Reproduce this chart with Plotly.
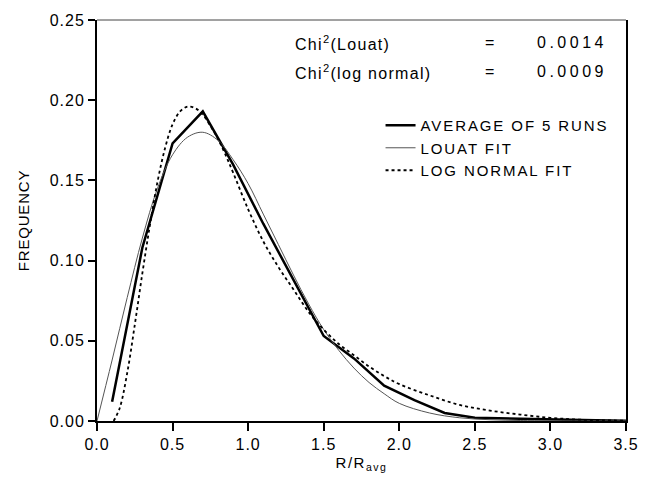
import plotly.graph_objects as go

# Average of 5 runs
avg_x = [0.1, 0.3, 0.5, 0.7, 0.9, 1.1, 1.3, 1.5, 1.7, 1.9, 2.1, 2.3, 2.5, 2.7, 2.9, 3.1, 3.3, 3.5]
avg_y = [0.012, 0.108, 0.173, 0.193, 0.160, 0.123, 0.088, 0.053, 0.039, 0.022, 0.013, 0.005,
         0.002, 0.0015, 0.001, 0.0007, 0.0004, 0.0002]

# Louat fit
louat_x = [0, 0.1, 0.2, 0.3, 0.4, 0.5, 0.6, 0.7, 0.8, 0.9, 1.0, 1.1, 1.2, 1.3, 1.4, 1.5, 1.6, 1.7,
           1.8, 1.9, 2.0, 2.2, 2.4, 2.6, 2.8, 3.0, 3.5]
louat_y = [0, 0.038, 0.077, 0.114, 0.145, 0.166, 0.177, 0.180, 0.175, 0.163, 0.148, 0.129, 0.110,
           0.091, 0.073, 0.057, 0.044, 0.033, 0.024, 0.017, 0.011, 0.005, 0.002, 0.0008, 0.0003,
           0.0001, 0]

# Log normal fit
logn_x = [0.11, 0.15, 0.2, 0.25, 0.3, 0.35, 0.4, 0.45, 0.5, 0.55, 0.6, 0.65, 0.7, 0.75, 0.8, 0.85,
          0.9, 1.0, 1.1, 1.2, 1.3, 1.4, 1.5, 1.6, 1.7, 1.8, 1.9, 2.0, 2.2, 2.4, 2.6, 2.8, 3.0, 3.2, 3.5]
logn_y = [0, 0.008, 0.030, 0.060, 0.092, 0.122, 0.149, 0.170, 0.185, 0.193, 0.196, 0.195, 0.191,
          0.184, 0.176, 0.166, 0.155, 0.132, 0.112, 0.096, 0.082, 0.068, 0.057, 0.048, 0.041,
          0.034, 0.028, 0.023, 0.016, 0.010, 0.0065, 0.004, 0.002, 0.0008, 0.0002]

x_ticks = [0.0, 0.5, 1.0, 1.5, 2.0, 2.5, 3.0, 3.5]
y_ticks = [0.00, 0.05, 0.10, 0.15, 0.20, 0.25]

series_names = ["AVERAGE OF 5 RUNS", "LOUAT FIT", "LOG NORMAL FIT"]
chi_labels = ["Chi<sup>2</sup>(Louat)", "Chi<sup>2</sup>(log normal)"]
chi_values = ["0.0014", "0.0009"]

FONT = "Liberation Sans, Arial, Helvetica, sans-serif"


def spaced(txt, px):
    return f'<span style="letter-spacing:{px}px">{txt}</span>'


fig = go.Figure()
fig.add_trace(go.Scatter(x=avg_x, y=avg_y, mode="lines", name=spaced(series_names[0], 1.9),
                         line=dict(color="black", width=2.5)))
fig.add_trace(go.Scatter(x=louat_x, y=louat_y, mode="lines", name=spaced(series_names[1], 1.9),
                         line=dict(color="#555555", width=1, shape="spline")))
fig.add_trace(go.Scatter(x=logn_x, y=logn_y, mode="lines", name=spaced(series_names[2], 1.9),
                         line=dict(color="black", width=1.8, dash="dot", shape="spline")))

fig.update_layout(
    width=651, height=486,
    margin=dict(l=97, r=23, t=16, b=65),
    paper_bgcolor="white", plot_bgcolor="white",
    font=dict(family=FONT, size=15, color="black"),
    showlegend=True,
    legend=dict(x=0.536, y=0.778, xanchor="left", yanchor="top",
                bgcolor="rgba(0,0,0,0)", font=dict(size=15),
                tracegroupgap=0, itemwidth=30),
    xaxis=dict(range=[0, 3.5], tickvals=x_ticks, ticktext=[spaced(f"{v:.1f}", 1) for v in x_ticks],
               showgrid=False, zeroline=False, showline=True, linecolor="black", linewidth=2,
               ticks="outside", ticklen=8, tickwidth=1.5, tickcolor="black",
               tickfont=dict(size=16),
               title=dict(text=spaced("R/R<sub>avg</sub>", 1.5), font=dict(size=15), standoff=5)),
    yaxis=dict(range=[0, 0.25], tickvals=y_ticks, ticktext=[spaced(f"{v:.2f}", 1) for v in y_ticks],
               showgrid=False, zeroline=False, showline=True, linecolor="black", linewidth=2,
               mirror=True,
               ticks="outside", ticklen=7, tickwidth=1.5, tickcolor="black",
               tickfont=dict(size=16),
               title=dict(text=spaced("FREQUENCY", 0.8), font=dict(size=15), standoff=16)),
)

# thin top frame line
fig.add_shape(type="line", xref="paper", yref="paper", x0=0, x1=1, y0=1, y1=1,
              line=dict(color="#444444", width=1))

chi_y = [0.2358, 0.2178]
for label, val, yy in zip(chi_labels, chi_values, chi_y):
    fig.add_annotation(x=1.300, y=yy, xref="x", yref="y", text=spaced(label, 1.3), showarrow=False,
                       xanchor="left", yanchor="middle", font=dict(size=16))
    fig.add_annotation(x=2.60, y=yy, xref="x", yref="y", text="=", showarrow=False,
                       xanchor="center", yanchor="middle", font=dict(size=16))
    fig.add_annotation(x=3.39, y=yy, xref="x", yref="y", text=spaced(val, 3.5), showarrow=False,
                       xanchor="right", yanchor="middle", font=dict(size=16))

fig.write_html("out.html")
